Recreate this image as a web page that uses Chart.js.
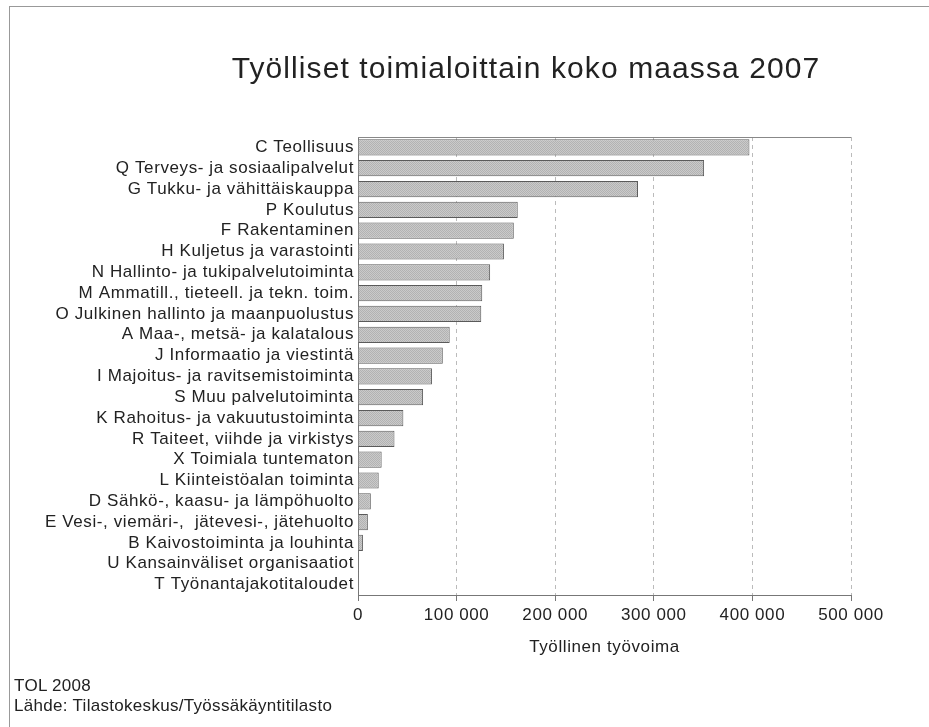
<!DOCTYPE html>
<html>
<head>
<meta charset="utf-8">
<script src="https://cdn.jsdelivr.net/npm/chart.js@4"></script>
<style>
  html, body { margin: 0; padding: 0; background: #fff; }
  #wrap { position: relative; width: 929px; height: 727px; overflow: hidden; }
  #frame { position: absolute; left: 9px; top: 6px; width: 940px; height: 740px; border-left: 1px solid #999; border-top: 1px solid #999; }
  canvas { position: absolute; left: 0; top: 0; }
  .txt { position: absolute; font-family: "Liberation Sans", Arial, sans-serif; color: #222; white-space: nowrap; }
  .note { left: 14px; font-size: 17px; line-height: 20px; letter-spacing: 0.3px; }
  #title { left: 0; width: 1052px; text-align: center; top: 50px; font-size: 30px; line-height: 36px; letter-spacing: 1.1px; }
</style>
</head>
<body>
<div id="wrap">
  <div id="frame"></div>
  <canvas id="chart" width="929" height="727"></canvas>
  <div id="title" class="txt">Työlliset toimialoittain koko maassa 2007</div>
  <div class="txt note" style="top:676px">TOL 2008</div>
  <div class="txt note" style="top:696px">Lähde: Tilastokeskus/Työssäkäyntitilasto</div>
</div>
<script>
const categories = [
    'C Teollisuus',
    'Q Terveys- ja sosiaalipalvelut',
    'G Tukku- ja vähittäiskauppa',
    'P Koulutus',
    'F Rakentaminen',
    'H Kuljetus ja varastointi',
    'N Hallinto- ja tukipalvelutoiminta',
    'M Ammatill., tieteell. ja tekn. toim.',
    'O Julkinen hallinto ja maanpuolustus',
    'A Maa-, metsä- ja kalatalous',
    'J Informaatio ja viestintä',
    'I Majoitus- ja ravitsemistoiminta',
    'S Muu palvelutoiminta',
    'K Rahoitus- ja vakuutustoiminta',
    'R Taiteet, viihde ja virkistys',
    'X Toimiala tuntematon',
    'L Kiinteistöalan toiminta',
    'D Sähkö-, kaasu- ja lämpöhuolto',
    'E Vesi-, viemäri-,  jätevesi-, jätehuolto',
    'B Kaivostoiminta ja louhinta',
    'U Kansainväliset organisaatiot',
    'T Työnantajakotitaloudet'
];
const employed = [
    397000, 351000, 284000, 162000, 158000, 148000, 134000, 126000, 125000,
    93000, 86000, 75000, 66000, 46000, 37000, 24000, 21000, 13000, 10000, 5000,
    200, 100
];
const xTicks = [0, 100000, 200000, 300000, 400000, 500000];

const font = "'Liberation Sans', Arial, sans-serif";

function fmt(v) {
    return String(v).replace(/\B(?=(\d{3})+(?!\d))/g, ' ');
}

// stippled grey fill like the printed original
function stipple() {
    const c = document.createElement('canvas');
    c.width = 2;
    c.height = 2;
    const g = c.getContext('2d');
    g.fillStyle = '#cacaca';
    g.fillRect(0, 0, 2, 2);
    g.fillStyle = '#b2b2b2';
    g.fillRect(0, 0, 1, 1);
    g.fillRect(1, 1, 1, 1);
    return g.createPattern(c, 'repeat');
}

// wider letter spacing for canvas text, and top border of plot area
const extras = {
    id: 'extras',
    beforeDraw(chart) {
        chart.ctx.letterSpacing = '0.6px';
    },
    afterDraw(chart) {
        const a = chart.chartArea;
        const ctx = chart.ctx;
        ctx.save();
        ctx.strokeStyle = '#888';
        ctx.lineWidth = 1;
        ctx.beginPath();
        ctx.moveTo(a.left, a.top + 0.5);
        ctx.lineTo(a.right, a.top + 0.5);
        ctx.stroke();
        ctx.restore();
    }
};

new Chart(document.getElementById('chart'), {
    type: 'bar',
    data: {
        labels: categories,
        datasets: [{
            data: employed,
            backgroundColor: stipple(),
            borderColor: '#5a5a5a',
            borderWidth: 1,
            barPercentage: 0.78,
            categoryPercentage: 1
        }]
    },
    options: {
        indexAxis: 'y',
        responsive: false,
        animation: false,
        layout: { padding: { left: 0, right: 78, top: 137, bottom: 52 } },
        plugins: {
            legend: { display: false },
            tooltip: { enabled: false }
        },
        scales: {
            x: {
                min: 0,
                max: 500000,
                afterBuildTicks(scale) {
                    scale.ticks = xTicks.map(v => ({ value: v }));
                },
                afterFit(scale) { scale.height = 80; },
                ticks: {
                    color: '#222',
                    font: { family: font, size: 17 },
                    padding: 4,
                    maxRotation: 0,
                    callback: v => fmt(v)
                },
                grid: {
                    color: '#bbb',
                    lineWidth: 1,
                    tickLength: 6,
                    tickColor: '#777',
                    tickBorderDash: []
                },
                border: { display: true, color: '#777', dash: [4, 4] },
                title: {
                    display: true,
                    text: 'Työllinen työvoima',
                    color: '#222',
                    font: { family: font, size: 17 },
                    padding: { top: 4, bottom: 17 }
                }
            },
            y: {
                afterFit(scale) { scale.width = 358; },
                ticks: {
                    color: '#222',
                    font: { family: font, size: 17 },
                    padding: 4,
                    autoSkip: false
                },
                grid: { display: false, drawTicks: false },
                border: { display: true, color: '#777' }
            }
        }
    },
    plugins: [extras]
});
</script>
</body>
</html>
